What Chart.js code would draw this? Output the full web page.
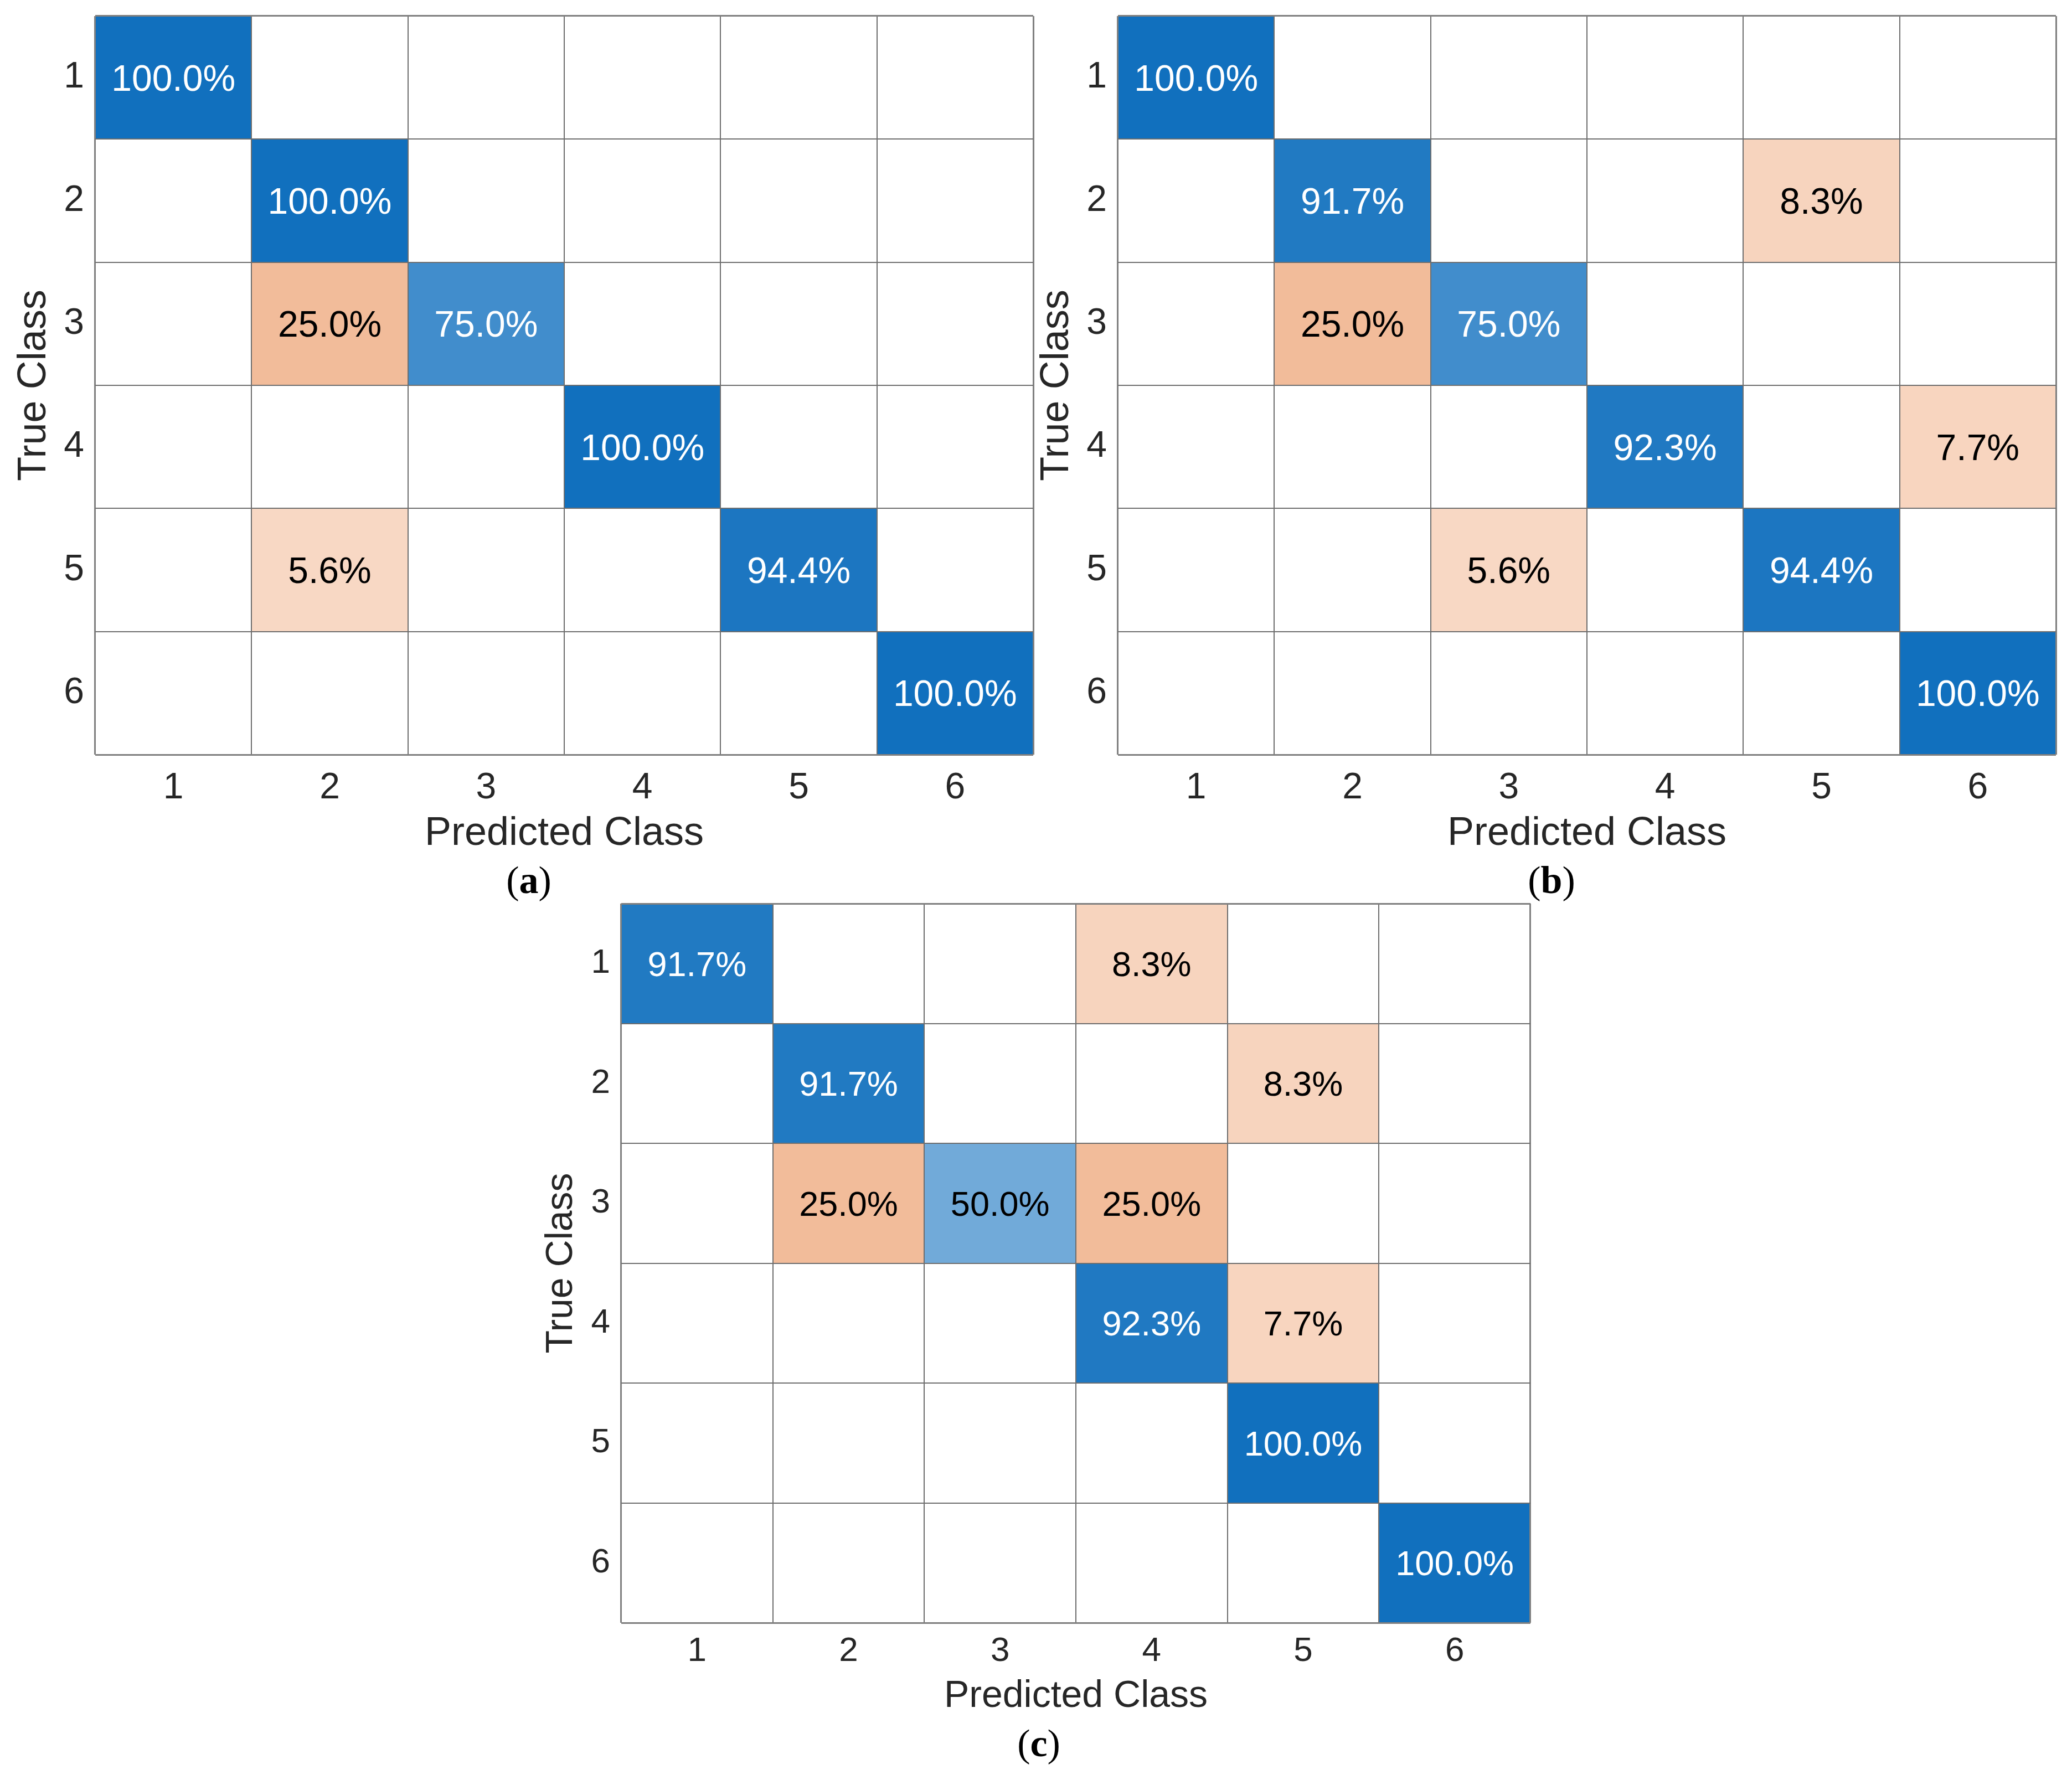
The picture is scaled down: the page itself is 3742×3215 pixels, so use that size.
<!DOCTYPE html>
<html>
<head>
<meta charset="utf-8">
<script src="https://cdn.jsdelivr.net/npm/chart.js@4.4.1/dist/chart.umd.min.js"></script>
<style>
  html, body { margin: 0; padding: 0; background: #ffffff; }
  body { width: 3742px; height: 3215px; position: relative; overflow: hidden; }
  .panel { position: absolute; }
  .cap { position: absolute; font-family: 'Liberation Serif', 'Times New Roman', serif; font-size: 70px; color: #000; transform: translate(-50%, -50%); line-height: 1; white-space: nowrap; }
</style>
</head>
<body>
<div class="panel" id="pa" style="left:0px;top:0px;width:1880px;height:1560px;"><canvas id="ca" width="1880" height="1560"></canvas></div>
<div class="panel" id="pb" style="left:1847px;top:0px;width:1880px;height:1560px;"><canvas id="cb" width="1880" height="1560"></canvas></div>
<div class="panel" id="pc" style="left:900px;top:1600px;width:1900px;height:1520px;"><canvas id="cc" width="1900" height="1520"></canvas></div>
<div class="cap" style="left:955px;top:1590px;">(<b>a</b>)</div>
<div class="cap" style="left:2802px;top:1590px;">(<b>b</b>)</div>
<div class="cap" style="left:1876px;top:3149px;">(<b>c</b>)</div>
<script>
// ---------------- DATA ----------------
const classLabels = ['1', '2', '3', '4', '5', '6'];
const xTitle = 'Predicted Class';
const yTitle = 'True Class';

// rows = true class, columns = predicted class, values in percent (0 = empty cell)
const matrixA = [
  [100, 0, 0, 0, 0, 0],
  [0, 100, 0, 0, 0, 0],
  [0, 25.0, 75.0, 0, 0, 0],
  [0, 0, 0, 100, 0, 0],
  [0, 5.6, 0, 0, 94.4, 0],
  [0, 0, 0, 0, 0, 100]
];
const matrixB = [
  [100, 0, 0, 0, 0, 0],
  [0, 91.7, 0, 0, 8.3, 0],
  [0, 25.0, 75.0, 0, 0, 0],
  [0, 0, 0, 92.3, 0, 7.7],
  [0, 0, 5.6, 0, 94.4, 0],
  [0, 0, 0, 0, 0, 100]
];
const matrixC = [
  [91.7, 0, 0, 8.3, 0, 0],
  [0, 91.7, 0, 0, 8.3, 0],
  [0, 25.0, 50.0, 25.0, 0, 0],
  [0, 0, 0, 92.3, 7.7, 0],
  [0, 0, 0, 0, 100, 0],
  [0, 0, 0, 0, 0, 100]
];

// ---------------- STYLE ----------------
const FONT = "'Liberation Sans', Arial, Helvetica, sans-serif";
const TEXT = '#262626';
const GRID = '#6e6e6e';

function rgb(a) { return 'rgb(' + a.map(v => Math.round(Math.max(0, Math.min(255, v)))).join(',') + ')'; }
function diagColor(v) {
  const f = 1 - v / 100;
  return rgb([17 + f * 192, 112 + f * 116, 190 + f * 54]);
}
function offColor(v) {
  return rgb([250 - 0.32 * v, 224 - 1.44 * v, 208 - 2.16 * v]);
}
function cellColor(v, r, c) {
  if (!v) return '#ffffff';
  return r === c ? diagColor(v) : offColor(v);
}
function textColor(v, r, c) {
  return (r === c && v > 60) ? '#ffffff' : '#000000';
}

const cellTextPlugin = {
  id: 'cellText',
  afterDatasetsDraw(chart, args, opts) {
    const ctx = chart.ctx;
    const m = opts.matrix;
    ctx.save();
    ctx.font = opts.size + 'px ' + FONT;
    ctx.textAlign = 'center';
    ctx.textBaseline = 'middle';
    chart.data.datasets.forEach((ds, r) => {
      const meta = chart.getDatasetMeta(r);
      meta.data.forEach((el, c) => {
        const v = m[r][c];
        if (!v) return;
        const cx = el.x;
        const cy = (el.y + el.base) / 2;
        ctx.fillStyle = textColor(v, r, c);
        ctx.fillText(v.toFixed(1) + '%', cx, cy + opts.size * 0.08);
      });
    });
    ctx.restore();
  }
};

function makeChart(id, matrix, cfg) {
  const datasets = matrix.map((row, r) => ({
    label: classLabels[r],
    data: row.map(() => [r + 1 - 0.5, r + 1 + 0.5]),
    backgroundColor: row.map((v, c) => cellColor(v, r, c)),
    borderWidth: 0,
    barPercentage: 1.0,
    categoryPercentage: 1.0,
    grouped: false
  }));
  const gridW = ctx => (ctx.type !== 'tick' || ctx.index === 0) ? 3 : 2;
  const gridC = ctx => (ctx.type !== 'tick' || ctx.index === 0) ? '#808080' : GRID;
  return new Chart(document.getElementById(id), {
    type: 'bar',
    data: { labels: classLabels, datasets },
    plugins: [cellTextPlugin],
    options: {
      responsive: false,
      animation: false,
      devicePixelRatio: 1,
      layout: { padding: { top: cfg.padTop, right: cfg.padRight, left: 0, bottom: 0 } },
      plugins: {
        legend: { display: false },
        tooltip: { enabled: false },
        cellText: { matrix: matrix, size: cfg.cellFont }
      },
      scales: {
        x: {
          type: 'category',
          position: 'bottom',
          offset: true,
          grid: { display: true, offset: true, drawTicks: false, color: gridC, lineWidth: gridW, z: 1 },
          border: { display: false },
          ticks: { color: TEXT, font: { family: FONT, size: cfg.tickFont }, padding: cfg.xTickPad, maxRotation: 0 },
          title: { display: true, text: xTitle, color: TEXT, font: { family: FONT, size: cfg.titleFont }, padding: { top: 0, bottom: cfg.xTitlePad } },
          afterFit: s => { s.height = cfg.xAxisH; s.paddingLeft = 0; s.paddingRight = 0; }
        },
        y: {
          type: 'linear',
          position: 'left',
          reverse: true,
          min: 0.5,
          max: 6.5,
          afterBuildTicks: s => { s.ticks = classLabels.map((l, i) => ({ value: i + 1 })); },
          grid: { display: true, offset: true, drawTicks: false, color: gridC, lineWidth: gridW, z: 1 },
          border: { display: false },
          ticks: { color: TEXT, font: { family: FONT, size: cfg.tickFont }, padding: cfg.yTickPad,
                   callback: (v) => classLabels[Math.round(v) - 1] },
          title: { display: true, text: yTitle, color: TEXT, font: { family: FONT, size: cfg.titleFont }, padding: { top: cfg.yTitlePad, bottom: 0 } },
          afterFit: s => { s.width = cfg.yAxisW; s.paddingTop = 0; s.paddingBottom = 0; }
        }
      }
    }
  });
}

const cfgAB = { padTop: 29, padRight: 14, yAxisW: 172, xAxisH: 197, tickFont: 66, titleFont: 72, cellFont: 66,
                xTickPad: 21, yTickPad: 20, xTitlePad: 11, yTitlePad: 19 };
const cfgC = { padTop: 32, padRight: 36, yAxisW: 222, xAxisH: 189, tickFont: 62, titleFont: 68, cellFont: 63,
               xTickPad: 15, yTickPad: 20, xTitlePad: 15, yTitlePad: 73 };

makeChart('ca', matrixA, cfgAB);
makeChart('cb', matrixB, cfgAB);
makeChart('cc', matrixC, cfgC);
</script>
</body>
</html>
